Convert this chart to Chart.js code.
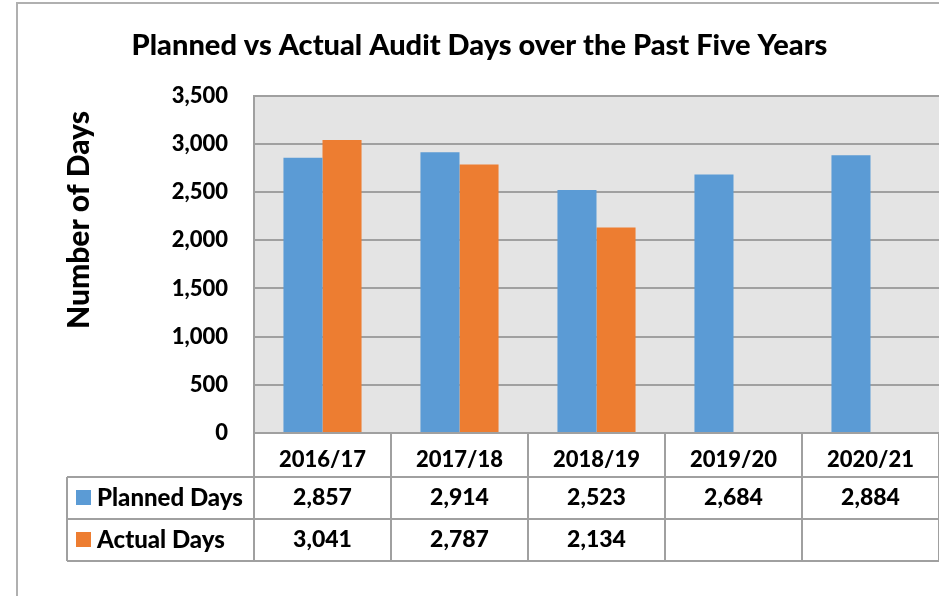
<!DOCTYPE html>
<html>
<head>
<meta charset="utf-8">
<script src="https://cdn.jsdelivr.net/npm/chart.js@4/dist/chart.umd.min.js"></script>
<style>
  html, body { margin: 0; padding: 0; background: #fff; }
  #wrap { position: relative; width: 939px; height: 596px; }
</style>
</head>
<body>
<div id="wrap"><canvas id="audit-days-chart"></canvas></div>
<script>
(function () {
  'use strict';

  var categories = ['2016/17', '2017/18', '2018/19', '2019/20', '2020/21'];
  var plannedDays = [2857, 2914, 2523, 2684, 2884];
  var actualDays = [3041, 2787, 2134, null, null];
  var seriesNames = ['Planned Days', 'Actual Days'];
  var yMax = 3500;
  var yStep = 500;

  var FONT = 'Lato, "Liberation Sans", sans-serif';
  var W = '900';
  var LINE = '#a0a0a0';

  // table geometry below the plot
  var ROW_H = 42;
  var TABLE_LEFT = 67;

  function fmt(v) {
    return v.toLocaleString('en-US');
  }

  var frame = {
    id: 'frame',
    beforeDraw: function (chart) {
      var ctx = chart.ctx;
      var a = chart.chartArea;
      ctx.save();
      ctx.fillStyle = '#e4e4e4';
      ctx.fillRect(a.left, a.top, a.right - a.left, a.bottom - a.top);
      ctx.strokeStyle = '#b0b0b0';
      ctx.lineWidth = 2;
      ctx.beginPath();
      ctx.moveTo(17, chart.height);
      ctx.lineTo(17, 3);
      ctx.lineTo(chart.width, 3);
      ctx.stroke();
      ctx.restore();
    }
  };

  // y axis title sits higher than the plot centre in the original
  var axisTitle = {
    id: 'axisTitle',
    afterDraw: function (chart) {
      var ctx = chart.ctx;
      ctx.save();
      ctx.translate(79, 220);
      ctx.rotate(-Math.PI / 2);
      ctx.fillStyle = '#000';
      ctx.font = W + ' 30px ' + FONT;
      ctx.textAlign = 'center';
      ctx.textBaseline = 'middle';
      ctx.fillText('Number of Days', 0, 0);
      ctx.restore();
    }
  };

  var dataTable = {
    id: 'dataTable',
    afterDraw: function (chart) {
      var ctx = chart.ctx;
      var x = chart.scales.x;
      var a = chart.chartArea;
      var n = categories.length;
      var cw = (x.right - x.left) / n;
      var top1 = a.bottom;
      var top2 = x.bottom;
      var rows = chart.data.datasets.length;
      var bottom = top2 + ROW_H * rows;

      ctx.save();
      ctx.strokeStyle = LINE;
      ctx.lineWidth = 2;
      ctx.beginPath();
      for (var i = 0; i <= n; i++) {
        var vx = x.left + i * cw;
        ctx.moveTo(vx, top1);
        ctx.lineTo(vx, bottom);
      }
      for (var r = 0; r <= rows; r++) {
        var hy = top2 + r * ROW_H;
        ctx.moveTo(TABLE_LEFT, hy);
        ctx.lineTo(x.right, hy);
      }
      ctx.moveTo(TABLE_LEFT, top2);
      ctx.lineTo(TABLE_LEFT, bottom);
      ctx.moveTo(a.left, top1);
      ctx.lineTo(a.right, top1);
      ctx.stroke();

      ctx.textBaseline = 'middle';
      chart.data.datasets.forEach(function (ds, r) {
        var cy = top2 + r * ROW_H + ROW_H / 2;
        ctx.fillStyle = ds.backgroundColor;
        ctx.fillRect(76, cy - 8, 15, 15);
        ctx.fillStyle = '#000';
        ctx.textAlign = 'left';
        ctx.font = W + ' 24px ' + FONT;
        ctx.fillText(ds.label, 97, cy);
        ctx.textAlign = 'center';
        ctx.font = W + ' 23px ' + FONT;
        ds.data.forEach(function (v, i) {
          if (v === null) return;
          ctx.fillText(fmt(v), x.getPixelForValue(i), cy);
        });
      });
      ctx.restore();
    }
  };

  new Chart(document.getElementById('audit-days-chart'), {
    type: 'bar',
    data: {
      labels: categories,
      datasets: [
        {
          label: seriesNames[0],
          data: plannedDays,
          backgroundColor: '#5b9bd5',
          categoryPercentage: 0.57,
          barPercentage: 1.0
        },
        {
          label: seriesNames[1],
          data: actualDays,
          backgroundColor: '#ed7d31',
          categoryPercentage: 0.57,
          barPercentage: 1.0
        }
      ]
    },
    options: {
      responsive: true,
      maintainAspectRatio: false,
      animation: false,
      layout: { padding: { left: 20, top: 0, right: 0, bottom: 596 - 477 } },
      plugins: {
        legend: { display: false },
        tooltip: { enabled: false },
        title: {
          display: true,
          text: 'Planned vs Actual Audit Days over the Past Five Years',
          color: '#000',
          font: { family: FONT, size: 29, weight: W },
          padding: { top: 28, bottom: 33 }
        }
      },
      scales: {
        x: {
          afterFit: function (s) { s.height = 44; },
          grid: { display: false },
          border: { display: false },
          ticks: {
            color: '#000',
            font: { family: FONT, size: 22, weight: W },
            padding: 6,
            maxRotation: 0,
            autoSkip: false
          }
        },
        y: {
          min: 0,
          max: yMax,
          afterFit: function (s) { s.width = 234; },
          grid: { color: LINE, lineWidth: 2, drawTicks: false },
          border: { display: true, color: LINE, width: 2 },
          ticks: {
            stepSize: yStep,
            color: '#000',
            padding: 26,
            font: { family: FONT, size: 22, weight: W },
            callback: function (v) { return fmt(v); }
          }
        }
      }
    },
    plugins: [frame, axisTitle, dataTable]
  });
})();
</script>
</body>
</html>
